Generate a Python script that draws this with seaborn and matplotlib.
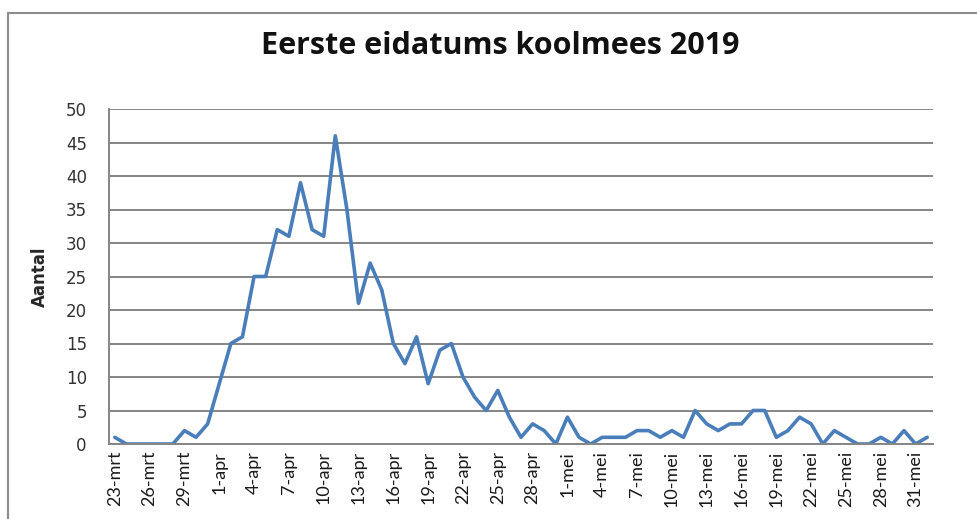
import numpy as np
import pandas as pd
import seaborn as sns
import matplotlib.pyplot as plt
from matplotlib.lines import Line2D

# dates from 23 March to 1 June 2019, Dutch short month names
maanden = {3: "mrt", 4: "apr", 5: "mei", 6: "jun"}
dagen = pd.date_range("2019-03-23", "2019-06-01", freq="D")
dag_labels = [f"{d.day}-{maanden[d.month]}" for d in dagen]

# number of first egg dates per day
aantal = [1, 0, 0, 0, 0, 0, 2, 1, 3, 9,
          15, 16, 25, 25, 32, 31, 39, 32, 31, 46,
          35, 21, 27, 23, 15, 12, 16, 9, 14, 15,
          10, 7, 5, 8, 4, 1, 3, 2, 0, 4,
          1, 0, 1, 1, 1, 2, 2, 1, 2, 1,
          5, 3, 2, 3, 3, 5, 5, 1, 2, 4,
          3, 0, 2, 1, 0, 0, 1, 0, 2, 0,
          1]

df = pd.DataFrame({"dag": dag_labels, "aantal": aantal})

sns.set_style("white")

fig = plt.figure(figsize=(9.78, 5.19), dpi=100)
ax = fig.add_axes([109 / 978, 75 / 519, 824 / 978, 335 / 519])

sns.lineplot(data=df, x="dag", y="aantal", ax=ax, color="#4A7EBB", linewidth=2.6, sort=False)

ax.set_xlim(-0.5, len(dag_labels) - 0.5)
ax.set_ylim(0, 50)
ax.set_yticks(np.arange(0, 51, 5))
ax.set_xticks(range(0, len(dag_labels), 3))
ax.set_xticklabels(dag_labels[::3], rotation=90, fontsize=13, family=["Lato", "DejaVu Sans"], color="#1a1a1a")
ax.tick_params(axis="y", length=0, pad=16, labelsize=12, labelcolor="#333333")
ax.tick_params(axis="x", length=0, pad=5)

ax.grid(axis="y", color="#858585", linewidth=1.4)
ax.grid(axis="x", visible=False)
for side in ["top", "right"]:
    ax.spines[side].set_visible(False)
for side in ["left", "bottom"]:
    ax.spines[side].set_color("#858585")
    ax.spines[side].set_linewidth(1.4)

ax.set_xlabel("")
ax.set_ylabel("Aantal", fontsize=12, fontweight="bold", family=["Liberation Sans Narrow", "DejaVu Sans"], labelpad=12)

fig.text(500 / 978, 1 - 46 / 519, "Eerste eidatums koolmees 2019", ha="center", va="center",
         fontsize=22, fontweight="bold", family=["Open Sans", "DejaVu Sans"], color="#111111")

# outer chart frame (left and top edge)
fig.add_artist(Line2D([8 / 978, 8 / 978], [0, 1 - 13 / 519], transform=fig.transFigure, color="#8c8c8c", linewidth=1.5))
fig.add_artist(Line2D([8 / 978, 1], [1 - 13 / 519, 1 - 13 / 519], transform=fig.transFigure, color="#8c8c8c", linewidth=1.5))

fig.savefig("out.png", dpi=100)
